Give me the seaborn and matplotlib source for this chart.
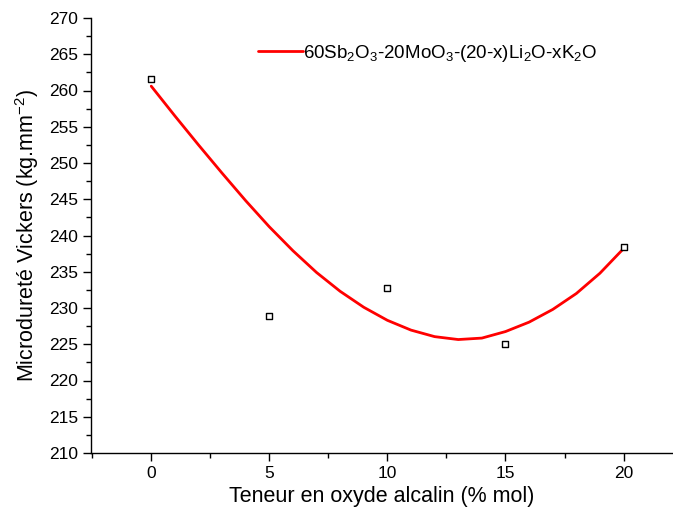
import matplotlib
matplotlib.use("Agg")
import matplotlib.pyplot as plt
import seaborn as sns
import pandas as pd
from matplotlib.ticker import MultipleLocator

# measured points
x_points = [0, 5, 10, 15, 20]
hv_points = [261.6, 228.9, 232.8, 225.1, 238.4]

# fitted curve
curve_x = [0, 1, 2, 3, 4, 5, 6, 7, 8, 9, 10, 11, 12, 13, 14, 15, 16, 17, 18, 19, 20]
curve_y = [260.6, 256.5, 252.5, 248.6, 244.8, 241.2, 237.9, 234.9, 232.3, 230.1,
           228.3, 226.95, 226.05, 225.65, 225.85, 226.75, 228.05, 229.8, 232.0, 234.8, 238.2]

legend_label = r"60Sb$_2$O$_3$-20MoO$_3$-(20-x)Li$_2$O-xK$_2$O"
xlabel = "Teneur en oxyde alcalin (% mol)"
ylabel = r"Microdureté Vickers (kg.mm$^{-2}$)"

sns.set_theme(style="ticks")
plt.rcParams['font.family'] = ['Liberation Sans', 'DejaVu Sans']
plt.rcParams['mathtext.fontset'] = 'custom'
plt.rcParams['mathtext.rm'] = 'Liberation Sans'
plt.rcParams['mathtext.it'] = 'Liberation Sans'
plt.rcParams['mathtext.bf'] = 'Liberation Sans'
for k in ['text.color', 'axes.labelcolor', 'xtick.color', 'ytick.color', 'axes.edgecolor']:
    plt.rcParams[k] = 'black'

df_pts = pd.DataFrame({"x": x_points, "y": hv_points})
df_curve = pd.DataFrame({"x": curve_x, "y": curve_y})

fig = plt.figure(figsize=(6.73, 5.16), dpi=100)
ax = fig.add_axes([91/673, 1 - 453/516, (672 - 91)/673, (453 - 18)/516])

sns.lineplot(data=df_curve, x="x", y="y", ax=ax, color="#ff0000", linewidth=2.0,
             label=legend_label)
sns.scatterplot(data=df_pts, x="x", y="y", ax=ax, marker="s", s=22,
                facecolor="white", edgecolor="black", linewidth=1.0, zorder=5,
                legend=False)

ax.set_xlim(-2.55, 22.05)
ax.set_ylim(210, 270)
ax.xaxis.set_major_locator(MultipleLocator(5))
ax.xaxis.set_minor_locator(MultipleLocator(2.5))
ax.yaxis.set_major_locator(MultipleLocator(5))
ax.yaxis.set_minor_locator(MultipleLocator(2.5))
ax.tick_params(which="major", length=6, width=1, direction="out", labelsize=12.5,
               colors="black", pad=3)
ax.tick_params(which="minor", length=3.5, width=1, direction="out", colors="black")

for s in ["top", "right"]:
    ax.spines[s].set_visible(False)
for s in ["left", "bottom"]:
    ax.spines[s].set_linewidth(1.0)
    ax.spines[s].set_color("black")

ax.set_xlabel(xlabel, fontsize=15.5, labelpad=4)
ax.set_ylabel(ylabel, fontsize=15.5, labelpad=6)

leg = ax.legend(loc="center left", bbox_to_anchor=((258 - 91) / 581, (453 - 53) / 435),
                frameon=False, fontsize=13.5, handlelength=2.4, handletextpad=0.0,
                borderpad=0.0, borderaxespad=0.0)

fig.savefig("out.png", dpi=100)
